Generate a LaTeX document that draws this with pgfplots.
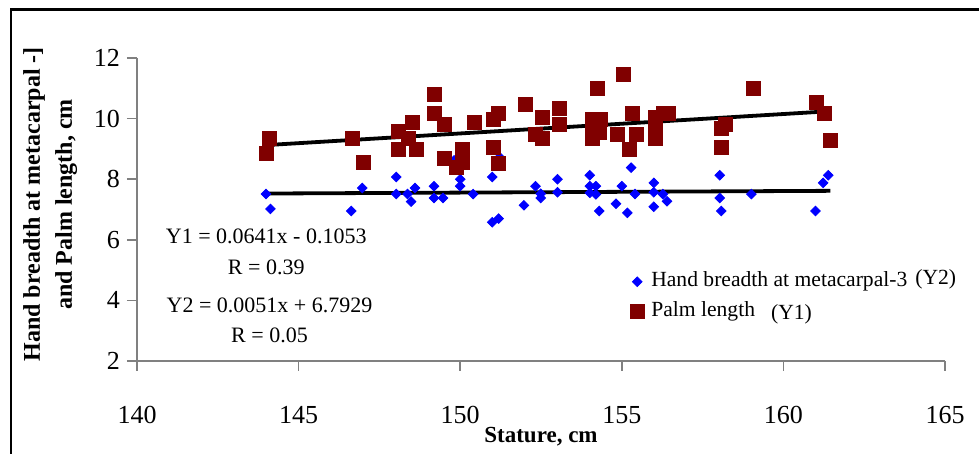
\documentclass[border=0pt]{standalone}
\usepackage{pgfplots}
\pgfplotsset{compat=1.18}
\usepackage{fontspec}
\setmainfont{Liberation Serif}
\definecolor{palm}{HTML}{800000}
\definecolor{hand}{HTML}{0000FF}
\definecolor{axgray}{HTML}{808080}
\begin{document}
\begin{tikzpicture}
\useasboundingbox (0,0) rectangle (489.5pt,227pt);
\draw[black, line width=1.2pt] (5.4pt,-2pt) -- (5.4pt,222.2pt) -- (492pt,222.2pt);
\begin{axis}[
  at={(68.5pt,46.5pt)}, anchor=south west,
  scale only axis, width=404pt, height=151.5pt,
  xmin=140, xmax=165, ymin=2, ymax=12,
  xtick={140,145,...,165}, ytick={2,4,...,12},
  axis lines=left, axis line style={-, axgray, line width=0.75pt},
  tick style={axgray, line width=0.75pt},
  tick align=outside, major tick length=5pt,
  /pgf/number format/assume math mode=true,
  ticklabel style={font=\fontsize{13}{15}\selectfont},
  xticklabel style={yshift=-14pt},
  xlabel={Stature, cm},
  xlabel style={at={(axis description cs:0.5,-0.2508)}, anchor=center, font=\bfseries\fontsize{11.5}{14}\selectfont},
  ylabel={Hand breadth at metacarpal -]\\and Palm length, cm},
  ylabel style={at={(axis description cs:-0.1073,0.517)}, anchor=center, align=center, font=\bfseries\fontsize{12}{16}\selectfont},
  legend style={draw=none, fill=none, at={(axis cs:155.25,4.12)}, anchor=west, inner sep=0pt,
    font=\fontsize{10.8}{13}\selectfont, row sep=0pt, column sep=1.5pt,
    nodes={text height=8pt, text depth=3pt, inner sep=2pt}},
  legend cell align=left,
  legend image code/.code={\draw[#1] plot coordinates {(0pt,0pt)};},
]
\addplot[only marks, color=hand, mark=square*, mark size=1.7pt, mark options={rotate=45, draw=hand, fill=hand}] coordinates {
(143.99,7.51) (144.13,7.02) (146.63,6.95) (146.97,7.71) (148.02,8.07) (148.02,7.51)
(148.37,7.51) (148.6,7.71) (148.48,7.26) (149.19,7.77) (149.19,7.38) (149.47,7.38)
(149.81,8.62) (150.0,8.0) (150.0,7.77) (150.4,7.51) (150.99,8.07) (150.99,6.58)
(151.19,6.70) (151.22,8.73) (151.97,7.14) (152.33,7.77) (152.49,7.52) (152.49,7.38)
(153.01,8.0) (153.01,7.57) (154.01,8.13) (154.01,7.77) (154.2,7.77) (154.01,7.55)
(154.2,7.5) (154.3,6.95) (154.82,7.19) (155.0,7.77) (155.29,8.38) (155.17,6.89)
(155.41,7.51) (155.99,7.88) (155.99,7.57) (155.99,7.09) (156.27,7.51) (156.4,7.27)
(158.03,8.13) (158.03,7.38) (158.08,6.95) (159.01,7.51) (160.99,6.95) (161.23,7.88)
(161.39,8.13)
};
\addlegendentry{Hand breadth at metacarpal-3\hspace{4pt}\raisebox{1pt}{(Y2)}}
\addplot[only marks, color=palm, mark=square*, mark size=3.5pt, mark options={draw=palm, fill=palm}] coordinates {
(144.0,8.85) (144.1,9.36) (146.66,9.36) (147.02,8.57) (148.08,9.58) (148.40,9.36)
(148.08,8.97) (148.52,9.86) (148.65,8.97) (149.2,10.81) (149.2,10.17) (149.51,9.82)
(149.51,8.70) (150.06,8.97) (150.06,8.57) (149.87,8.38) (150.44,9.86) (151.03,9.97)
(151.19,10.16) (151.03,9.05) (151.18,8.52) (152.02,10.48) (152.54,10.04) (152.34,9.48)
(152.54,9.36) (153.07,10.35) (153.07,9.82) (154.08,9.96) (154.33,9.96) (154.08,9.56)
(154.30,9.56) (154.08,9.36) (154.24,10.98) (155.05,11.47) (155.33,10.16) (154.87,9.48)
(155.45,9.48) (155.22,8.97) (156.04,10.05) (156.04,9.70) (156.04,9.36) (156.3,10.16)
(156.45,10.16) (158.07,9.69) (158.2,9.8) (158.07,9.04) (159.07,10.98) (161.03,10.55)
(161.28,10.16) (161.45,9.28)
};
\addlegendentry{Palm length\hspace{8pt}\raisebox{-1.5pt}{(Y1)}}
\addplot[black, line width=1.9pt, forget plot] coordinates {(144.0,9.125) (161.45,10.244)};
\addplot[black, line width=1.9pt, forget plot] coordinates {(144.0,7.527) (161.45,7.616)};
\node[font=\fontsize{11}{13}\selectfont] at (axis cs:144.0,6.1) {Y1 = 0.0641x - 0.1053};
\node[font=\fontsize{11}{13}\selectfont] at (axis cs:144.0,5.1) {R = 0.39};
\node[font=\fontsize{11}{13}\selectfont] at (axis cs:144.1,3.85) {Y2 = 0.0051x + 6.7929};
\node[font=\fontsize{11}{13}\selectfont] at (axis cs:144.1,2.86) {R = 0.05};
\end{axis}
\end{tikzpicture}
\end{document}
